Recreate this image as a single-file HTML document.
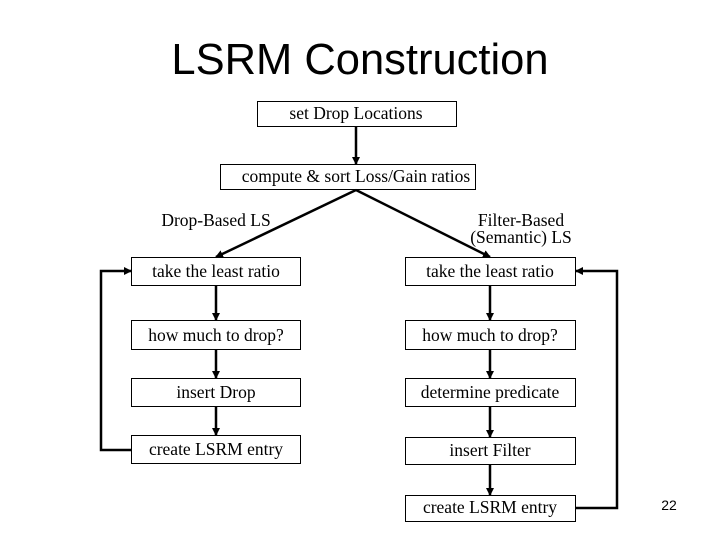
<!DOCTYPE html>
<html><head><meta charset="utf-8"><style>
html,body{margin:0;padding:0;background:#fff}
svg{display:block}
text{font-family:"Liberation Serif",serif;font-size:17.5px;fill:#000}
</style></head><body>
<svg width="720" height="540" viewBox="0 0 720 540" xmlns="http://www.w3.org/2000/svg">
<defs><marker id="a" markerWidth="8" markerHeight="8" refX="7" refY="4" orient="auto" markerUnits="userSpaceOnUse"><path d="M0,0 L8,4 L0,8 z" fill="#000"/></marker></defs>
<text x="360" y="74" text-anchor="middle" style="font-family:'Liberation Sans',sans-serif;font-size:43.5px">LSRM Construction</text>
<g fill="none" stroke="#000" stroke-width="1">
<rect x="257.5" y="101.5" width="199" height="25"/>
<rect x="220.5" y="164.5" width="255" height="25"/>
<rect x="131.5" y="257.5" width="169" height="28"/>
<rect x="131.5" y="320.5" width="169" height="29"/>
<rect x="131.5" y="378.5" width="169" height="28"/>
<rect x="131.5" y="435.5" width="169" height="28"/>
<rect x="405.5" y="257.5" width="170" height="28"/>
<rect x="405.5" y="320.5" width="170" height="29"/>
<rect x="405.5" y="378.5" width="170" height="28"/>
<rect x="405.5" y="437.5" width="170" height="27"/>
<rect x="405.5" y="495.5" width="170" height="26"/>
</g>
<g fill="none" stroke="#000" stroke-width="2.5" marker-end="url(#a)">
<line x1="356" y1="127" x2="356" y2="164"/>
<line x1="356" y1="190" x2="216" y2="257"/>
<line x1="356" y1="190" x2="490" y2="257"/>
<line x1="216" y1="286" x2="216" y2="320"/>
<line x1="216" y1="350" x2="216" y2="378"/>
<line x1="216" y1="407" x2="216" y2="435"/>
<line x1="490" y1="286" x2="490" y2="320"/>
<line x1="490" y1="350" x2="490" y2="378"/>
<line x1="490" y1="407" x2="490" y2="437"/>
<line x1="490" y1="465" x2="490" y2="495"/>
<polyline points="131,450 101,450 101,271 131,271"/>
<polyline points="576,508 617,508 617,271 576,271"/>
</g>
<text x="356" y="119" text-anchor="middle">set Drop Locations</text>
<text x="356" y="182" text-anchor="middle">compute &amp; sort Loss/Gain ratios</text>
<text x="216" y="226" text-anchor="middle">Drop-Based LS</text>
<text x="521" y="226" text-anchor="middle">Filter-Based</text>
<text x="521" y="243" text-anchor="middle">(Semantic) LS</text>
<text x="216" y="277" text-anchor="middle">take the least ratio</text>
<text x="216" y="341" text-anchor="middle">how much to drop?</text>
<text x="216" y="398" text-anchor="middle">insert Drop</text>
<text x="216" y="455" text-anchor="middle">create LSRM entry</text>
<text x="490" y="277" text-anchor="middle">take the least ratio</text>
<text x="490" y="341" text-anchor="middle">how much to drop?</text>
<text x="490" y="398" text-anchor="middle">determine predicate</text>
<text x="490" y="456" text-anchor="middle">insert Filter</text>
<text x="490" y="513" text-anchor="middle">create LSRM entry</text>
<text x="669" y="510" text-anchor="middle" style="font-family:'Liberation Sans',sans-serif;font-size:14px">22</text>
</svg>
</body></html>
